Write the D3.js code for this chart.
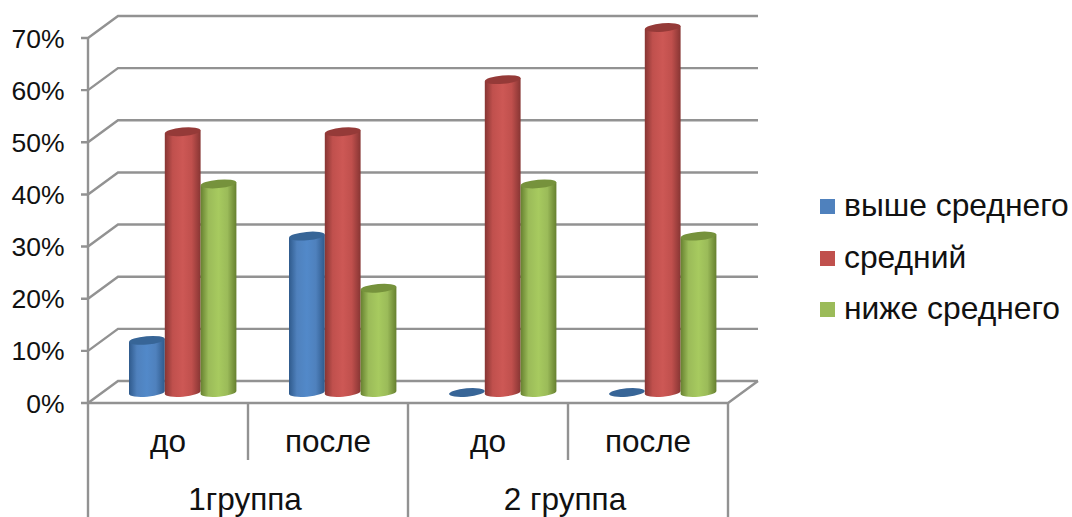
<!DOCTYPE html>
<html lang="ru">
<head>
<meta charset="utf-8">
<script src="https://cdn.jsdelivr.net/npm/d3@7"></script>
<style>
  html, body { margin: 0; background: #fff; }
  svg { display: block; }
  text { font-family: "Liberation Sans", Arial, sans-serif; fill: #111; }
</style>
</head>
<body>
<svg id="chart" width="1072" height="517"></svg>
<script>
const groups = ["1группа", "2 группа"];
const categories = ["до", "после", "до", "после"];
const seriesNames = ["выше среднего", "средний", "ниже среднего"];
const highValues = [10, 30, 0, 0];
const middleValues = [50, 50, 60, 70];
const lowValues = [40, 20, 40, 30];
const yTicks = [0, 10, 20, 30, 40, 50, 60, 70];

const seriesValues = [highValues, middleValues, lowValues];
const palette = [
  { edge: "#2f5a8c", mid: "#4f81bd", light: "#5289c9", top: "#376597" },
  { edge: "#873533", mid: "#c0504d", light: "#cd5855", top: "#953a38" },
  { edge: "#66802f", mid: "#9bbb59", light: "#a7ca5f", top: "#76923c" }
];

const width = 1072, height = 517;
const frontLeft = 88, frontRight = 728;
const depthX = 30, depthY = 22;
const floorY = 403, ceilingY = 38;
const gridColor = "#929292";

const svg = d3.select("#chart");
const defs = svg.append("defs");

const y = d3.scaleLinear().domain([0, 70]).range([floorY, ceilingY]);
const x = d3.scaleBand().domain(d3.range(categories.length)).range([frontLeft, frontRight]);
const barWidth = 35.8;
const xSeries = d3.scaleBand()
  .domain(d3.range(seriesNames.length))
  .range([0, barWidth * seriesNames.length]);
const clusterInset = 41;

// Horizontal shading that gives each column its rounded look
palette.forEach((c, i) => {
  const g = defs.append("linearGradient").attr("id", `shade${i}`)
    .attr("x1", 0).attr("x2", 1).attr("y1", 0).attr("y2", 0);
  [[0, c.edge], [0.22, c.mid], [0.5, c.light], [0.75, c.mid], [1, c.edge]]
    .forEach(([o, col]) => g.append("stop").attr("offset", o).attr("stop-color", col));
});

// Back wall, side wall and floor lines
const grid = svg.append("g").attr("fill", "none").attr("stroke", gridColor).attr("stroke-width", 2.4);
yTicks.forEach(t => {
  const py = y(t);
  grid.append("path").attr("d",
    `M${frontLeft - 7},${py}H${frontLeft}L${frontLeft + depthX},${py - depthY}H${frontRight + depthX}`);
});
grid.append("path").attr("d",
  `M${frontLeft},${floorY}H${frontRight}L${frontRight + depthX},${floorY - depthY}`);
grid.append("path").attr("d", `M${frontLeft},${y(70)}V${height}`);
grid.append("path").attr("d", `M${frontRight},${floorY}V${height}`);

// Two-level category axis separators
const innerTickEnd = 460;
categories.forEach((_, i) => {
  if (i === 0) return;
  grid.append("path").attr("d",
    `M${x(i)},${floorY}V${i === 2 ? height : innerTickEnd}`);
});

// Value axis labels
svg.append("g").selectAll("text").data(yTicks).join("text")
  .attr("x", 64.5).attr("y", d => y(d) + 9.5)
  .attr("text-anchor", "end").attr("font-size", 26.5)
  .text(d => d + "%");

// Cylinders
const rx = 17.9, ry = 4.2, tilt = -5;
const slant = rx * Math.tan(-tilt * Math.PI / 180);
const baseLift = 10.5;
const bars = svg.append("g");

categories.forEach((_, ci) => {
  seriesValues.forEach((values, si) => {
    const v = values[ci];
    const left = x(ci) + clusterInset + xSeries(si);
    const right = left + xSeries.bandwidth();
    const cx = (left + right) / 2;
    const yBase = y(0) - baseLift;
    const yTop = y(v) - baseLift;
    if (v > 0) {
      bars.append("path")
        .attr("fill", `url(#shade${si})`)
        .attr("d", `M${left},${yTop + slant}L${left},${yBase + slant}` +
          `A${rx},${ry} ${tilt} 0 0 ${right},${yBase - slant}` +
          `L${right},${yTop - slant}Z`);
    }
    bars.append("ellipse")
      .attr("cx", cx).attr("cy", yTop).attr("rx", rx).attr("ry", ry)
      .attr("transform", `rotate(${tilt} ${cx} ${yTop})`)
      .attr("fill", palette[si].top);
  });
});

// Category and group labels
svg.append("g").selectAll("text").data(categories).join("text")
  .attr("x", (d, i) => x(i) + x.bandwidth() / 2).attr("y", 452)
  .attr("text-anchor", "middle").attr("font-size", 31.5)
  .text(d => d);
svg.append("g").selectAll("text").data(groups).join("text")
  .attr("x", (d, i) => x(i * 2) + x.bandwidth() - 3).attr("y", 510)
  .attr("text-anchor", "middle").attr("font-size", 31.5)
  .text(d => d);

// Legend
const legendRows = [199, 251, 302];
const legend = svg.append("g");
seriesNames.forEach((name, i) => {
  legend.append("rect")
    .attr("x", 820).attr("y", legendRows[i]).attr("width", 15).attr("height", 15)
    .attr("fill", palette[i].mid);
  legend.append("text")
    .attr("x", 844).attr("y", legendRows[i] + 17)
    .attr("font-size", 31.8)
    .text(name);
});
</script>
</body>
</html>
